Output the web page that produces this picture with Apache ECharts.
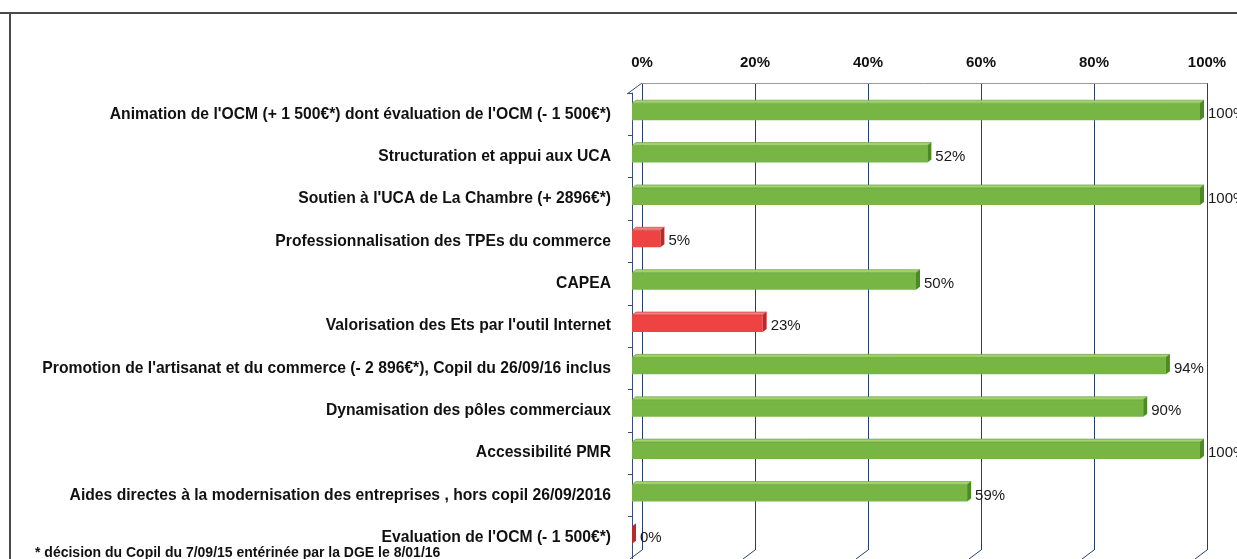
<!DOCTYPE html>
<html>
<head>
<meta charset="utf-8">
<script src="https://cdn.jsdelivr.net/npm/echarts/dist/echarts.min.js"></script>
<style>
html,body{margin:0;padding:0;background:#fff;}
#c{width:1237px;height:559px;}
</style>
</head>
<body>
<div id="c"></div>
<script>
var categories = [
  "Animation de l'OCM (+ 1 500€*) dont évaluation de l'OCM (- 1 500€*)",
  "Structuration et appui aux UCA",
  "Soutien à l'UCA de La Chambre (+ 2896€*)",
  "Professionnalisation des TPEs du commerce",
  "CAPEA",
  "Valorisation des Ets par l'outil Internet",
  "Promotion de l'artisanat et du commerce (- 2 896€*), Copil du 26/09/16 inclus",
  "Dynamisation des pôles commerciaux",
  "Accessibilité PMR",
  "Aides directes à la modernisation des entreprises , hors copil 26/09/2016",
  "Evaluation de l'OCM (- 1 500€*)"
];
var values = [100, 52, 100, 5, 50, 23, 94, 90, 100, 59, 0];
var barStatus = ["ok","ok","ok","low","ok","low","ok","ok","ok","ok","low"];
var tickValues = [0, 20, 40, 60, 80, 100];
var footnote = "* décision du Copil du 7/09/15 entérinée par la DGE le 8/01/16";

var palette = {
  ok:  {front:'#77b644', top:'#a3d16f', side:'#4d8a27', edge:'#5e9a34'},
  low: {front:'#ef4343', top:'#f57d7d', side:'#b52a2a', edge:'#cc3333'}
};

var chart = echarts.init(document.getElementById('c'));
var labelFont = 'Liberation Sans';

var option = {
  animation: false,
  backgroundColor: '#ffffff',
  grid: [
    {left: 642, right: 30, top: 83, height: 467},
    {left: 632, right: 37, top: 93, bottom: -1.5}
  ],
  xAxis: [
    {
      gridIndex: 0, type: 'value', position: 'top', min: 0, max: 100, interval: 20,
      axisLine: {show: true, onZero: false, lineStyle: {color: '#9a9a9a', width: 1}},
      axisTick: {show: false},
      splitLine: {show: true, lineStyle: {color: '#24406a', width: 1}},
      axisLabel: {
        margin: 13, formatter: '{value}%', color: '#111',
        fontFamily: labelFont, fontWeight: 'bold', fontSize: 15
      }
    },
    {
      gridIndex: 1, type: 'value', min: 0, max: 100, show: false
    }
  ],
  yAxis: [
    {gridIndex: 0, type: 'value', show: false},
    {
      gridIndex: 1, type: 'category', data: categories, inverse: true, offset: 5,
      axisLine: {show: true, lineStyle: {color: '#3a4d70', width: 1}},
      axisTick: {show: true, length: 4, lineStyle: {color: '#3a4d70'}},
      axisLabel: {
        margin: 16, color: '#111', fontFamily: labelFont, fontWeight: 'bold', fontSize: 15.7
      }
    }
  ],
  series: [{
    type: 'custom',
    xAxisIndex: 1, yAxisIndex: 1,
    clip: false,
    data: values.map(function (v, i) { return [v, i]; }),
    encode: {x: 0, y: 1},
    renderItem: function (params, api) {
      var v = api.value(0), idx = api.value(1);
      var p0 = api.coord([0, idx]), p1 = api.coord([v, idx]);
      var cy = p0[1], x0 = p0[0], x1 = p1[0];
      var top = cy - 11, bot = cy + 6, d = 4, dy = 3;
      var c = palette[barStatus[idx]];
      return {
        type: 'group',
        children: [
          {type: 'rect', shape: {x: x0, y: top, width: Math.max(x1 - x0, 0), height: bot - top},
           style: {fill: c.front}},
          {type: 'polygon', shape: {points: [[x0, top], [x0 + d, top - dy], [x1 + d, top - dy], [x1, top]]},
           style: {fill: c.top, stroke: c.edge, lineWidth: 0.6}},
          {type: 'polygon', shape: {points: [[x1, top], [x1 + d, top - dy], [x1 + d, bot - dy], [x1, bot]]},
           style: {fill: c.side}},
          {type: 'text', x: x1 + 8, y: cy,
           style: {text: v + '%', fill: '#1a1a1a', font: '15px "Liberation Sans"', verticalAlign: 'middle', align: 'left'}}
        ]
      };
    }
  }]
};
chart.setOption(option);

// decorative 3D frame edges, computed from the axes
var g = [];
var lineStyle = {stroke: '#24406a', lineWidth: 1};
var yTop = 83, yBottom = 550;
tickValues.forEach(function (t) {
  var x = chart.convertToPixel({xAxisIndex: 0}, t);
  g.push({type: 'line', shape: {x1: x, y1: yBottom, x2: x - 12, y2: yBottom + 9}, style: lineStyle, silent: true});
});
var xa = chart.convertToPixel({xAxisIndex: 0}, 0);
g.push({type: 'line', shape: {x1: xa - 15, y1: 94, x2: xa, y2: yTop}, style: {stroke: '#3a4d70', lineWidth: 1}, silent: true});
// page border
g.push({type: 'line', shape: {x1: 0, y1: 13, x2: 1237, y2: 13}, style: {stroke: '#4a4a4a', lineWidth: 2}, silent: true});
g.push({type: 'line', shape: {x1: 10, y1: 13, x2: 10, y2: 559}, style: {stroke: '#4a4a4a', lineWidth: 2}, silent: true});
g.push({type: 'text', left: 35, top: 546, style: {text: footnote, fill: '#111', font: 'bold 14px "Liberation Sans"'}, silent: true});
chart.setOption({graphic: g});
</script>
</body>
</html>
